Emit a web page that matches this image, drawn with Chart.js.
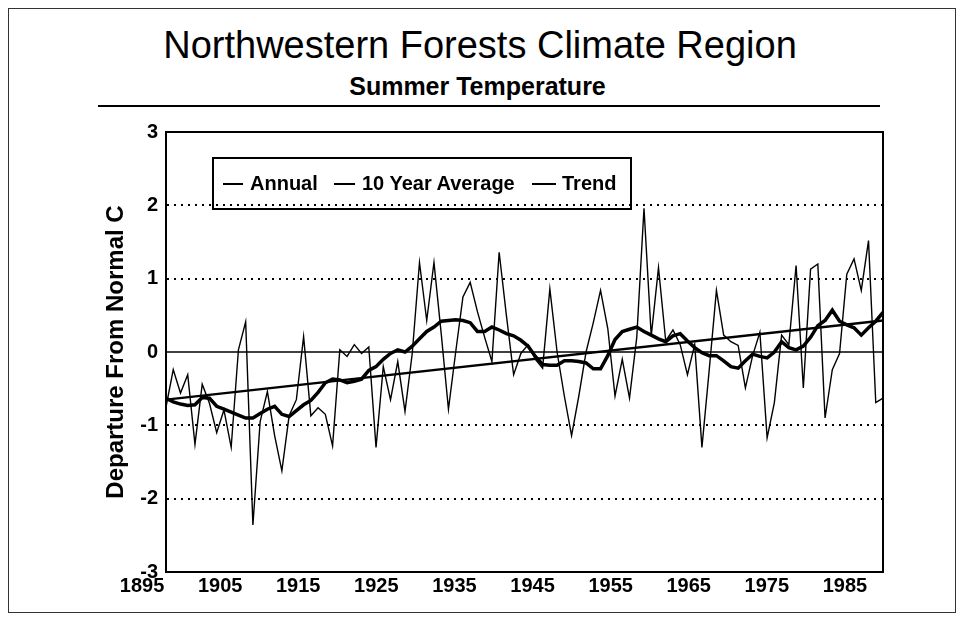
<!DOCTYPE html>
<html>
<head>
<meta charset="utf-8">
<script src="https://cdn.jsdelivr.net/npm/chart.js@4.4.1/dist/chart.umd.min.js"></script>
<style>
  html, body { margin: 0; padding: 0; background: #fff; }
  body { width: 963px; height: 629px; position: relative; overflow: hidden;
         font-family: "Liberation Sans", Arial, sans-serif; color: #000; }
  #frame { position: absolute; left: 8px; top: 8px; width: 946px; height: 603px;
           border: 1px solid #333; }
  #title { position: absolute; left: 0; top: 26px; width: 960px; text-align: center;
           font-size: 38px; line-height: 38px; }
  #subtitle { position: absolute; left: 0; top: 74px; width: 955px; text-align: center;
              font-size: 25px; line-height: 25px; font-weight: bold; }
  #rule { position: absolute; left: 98px; top: 105px; width: 782px; height: 2px; background: #000; }
  #wrap { position: absolute; left: 0; top: 0; width: 963px; height: 629px; }
  #legend { position: absolute; left: 212px; top: 157px; width: 420px; height: 53px;
            box-sizing: border-box; border: 2px solid #000; }
  .lg-line { position: absolute; height: 2px; background: #000; top: 183px; }
  .lg-text { position: absolute; top: 173px; font-size: 20px; line-height: 20px; font-weight: bold; }
</style>
</head>
<body>
<div id="frame"></div>
<div id="title">Northwestern Forests Climate Region</div>
<div id="subtitle">Summer Temperature</div>
<div id="rule"></div>
<div id="wrap"><canvas id="lineChart"></canvas></div>
<div id="legend"></div>
<div class="lg-line" style="left:223px;width:20px"></div>
<div class="lg-text" style="left:250px">Annual</div>
<div class="lg-line" style="left:334px;width:21px"></div>
<div class="lg-text" style="left:362px">10 Year Average</div>
<div class="lg-line" style="left:532px;width:24px"></div>
<div class="lg-text" style="left:562px">Trend</div>
<script>
// years 1895 - 1994
var years = Array.from({length: 100}, (_, i) => 1895 + i)

// summer temperature departure, deg C
var annual = [
    -0.75, -0.24, -0.56, -0.31, -1.26, -0.44, -0.70, -1.10, -0.79, -1.30,
     0.03,  0.41, -2.36, -0.95, -0.54, -1.14, -1.62, -0.87, -0.65,  0.21,
    -0.87, -0.76, -0.85, -1.28,  0.03, -0.06,  0.10, -0.02,  0.07, -1.30,
    -0.20, -0.65, -0.13, -0.81, -0.02,  1.22,  0.43,  1.22,  0.25, -0.78,
     0.00,  0.75,  0.95,  0.55,  0.20, -0.13,  1.36,  0.50, -0.31, -0.02,
     0.10, -0.10, -0.22,  0.86,  0.00, -0.60, -1.14, -0.60,  0.00,  0.40,
     0.84,  0.32, -0.60, -0.10, -0.63,  0.20,  1.96,  0.22,  1.15,  0.15,
     0.30,  0.10, -0.31,  0.10, -1.30, -0.25,  0.84,  0.23,  0.14,  0.09,
    -0.49, -0.05,  0.27, -1.17, -0.69,  0.23,  0.10,  1.18, -0.49,  1.13,
     1.20, -0.90, -0.24, -0.02,  1.06,  1.27,  0.84,  1.52, -0.69, -0.63
]

var tenYear = [
    -0.63, -0.68, -0.71, -0.73, -0.72, -0.62, -0.63, -0.74, -0.78, -0.82,
    -0.86, -0.90, -0.90, -0.84, -0.78, -0.74, -0.85, -0.88, -0.80, -0.72,
    -0.66, -0.55, -0.42, -0.37, -0.38, -0.42, -0.40, -0.37, -0.25, -0.20,
    -0.10, -0.02,  0.03,  0.00,  0.08,  0.18,  0.28,  0.34,  0.42,  0.43,
     0.44,  0.43,  0.40,  0.28,  0.28,  0.34,  0.30,  0.25,  0.22,  0.16,
     0.08, -0.06, -0.17, -0.18, -0.18, -0.12, -0.12, -0.13, -0.15, -0.23,
    -0.23, -0.05,  0.17,  0.28,  0.31,  0.34,  0.28,  0.23,  0.18,  0.14,
     0.22,  0.25,  0.15,  0.06, -0.01, -0.05, -0.05, -0.12, -0.20, -0.22,
    -0.12, -0.03, -0.06, -0.08,  0.00,  0.14,  0.06,  0.03,  0.08,  0.20,
     0.36,  0.43,  0.57,  0.42,  0.37,  0.33,  0.23,  0.33,  0.42,  0.54
]

var trendYears = [1895, 1994]
var trendValues = [-0.65, 0.43]

var xTickLabels = ['1895', '1905', '1915', '1925', '1935', '1945', '1955', '1965', '1975', '1985']
var yTicks = [-3, -2, -1, 0, 1, 2, 3]

// the printed year labels sit on their own 10.78 year spacing, starting left of the axis
var labelStart = 1891.69
var labelStep = 10.784

var font = '"Liberation Sans", Arial, sans-serif'

var lineChart = new Chart(document.querySelector('#lineChart'), {
    type: 'line',
    data: {
        datasets: [
            {
                label: 'Annual',
                data: years.map((y, i) => ({x: y, y: annual[i]})),
                borderColor: '#000',
                borderWidth: 1.4,
                pointRadius: 0,
                tension: 0
            },
            {
                label: '10 Year Average',
                data: years.map((y, i) => ({x: y, y: tenYear[i]})),
                borderColor: '#000',
                borderWidth: 3.5,
                pointRadius: 0,
                tension: 0
            },
            {
                label: 'Trend',
                data: trendYears.map((y, i) => ({x: y, y: trendValues[i]})),
                borderColor: '#000',
                borderWidth: 2.4,
                pointRadius: 0
            },
            {
                label: 'Normal',
                data: [{x: years[0], y: 0}, {x: years[years.length - 1], y: 0}],
                borderColor: '#000',
                borderWidth: 1.5,
                pointRadius: 0
            }
        ]
    },
    options: {
        responsive: true,
        maintainAspectRatio: false,
        animation: false,
        layout: {
            padding: {left: 95, right: 80, top: 132, bottom: 27}
        },
        plugins: {
            legend: {display: false},
            tooltip: {enabled: false}
        },
        scales: {
            x: {
                type: 'linear',
                min: years[0],
                max: years[years.length - 1],
                grid: {display: false, drawTicks: false},
                border: {display: true, color: '#000', width: 2},
                afterBuildTicks: scale => {
                    scale.ticks = xTickLabels.map((t, k) => ({value: labelStart + k * labelStep}))
                },
                afterFit: scale => { scale.height = 30 },
                ticks: {
                    autoSkip: false,
                    maxRotation: 0,
                    padding: 2,
                    color: '#000',
                    font: {family: font, size: 20, weight: 'bold'},
                    callback: (value, index) => xTickLabels[index]
                }
            },
            y: {
                min: -3,
                max: 3,
                afterBuildTicks: scale => {
                    scale.ticks = yTicks.map(v => ({value: v}))
                },
                afterFit: scale => { scale.width = 71 },
                grid: {
                    drawTicks: false,
                    lineWidth: 2,
                    color: ctx => (Math.abs(ctx.tick.value) === 1 || Math.abs(ctx.tick.value) === 2) ? '#000' : 'rgba(0,0,0,0)'
                },
                border: {display: true, color: '#000', width: 2, dash: [2, 5]},
                ticks: {
                    padding: 8,
                    color: '#000',
                    font: {family: font, size: 20, weight: 'bold'}
                },
                title: {
                    display: true,
                    text: 'Departure From Normal C',
                    color: '#000',
                    padding: {top: 7, bottom: 0},
                    font: {family: font, size: 24, weight: 'bold'}
                }
            },
            xTop: {
                type: 'linear',
                position: 'top',
                min: 0,
                max: 1,
                grid: {display: false},
                ticks: {display: false},
                border: {display: true, color: '#000', width: 2},
                afterFit: scale => { scale.height = 0 }
            },
            yRight: {
                type: 'linear',
                position: 'right',
                min: 0,
                max: 1,
                grid: {display: false},
                ticks: {display: false},
                border: {display: true, color: '#000', width: 2},
                afterFit: scale => { scale.width = 0 }
            }
        }
    }
})
</script>
</body>
</html>
